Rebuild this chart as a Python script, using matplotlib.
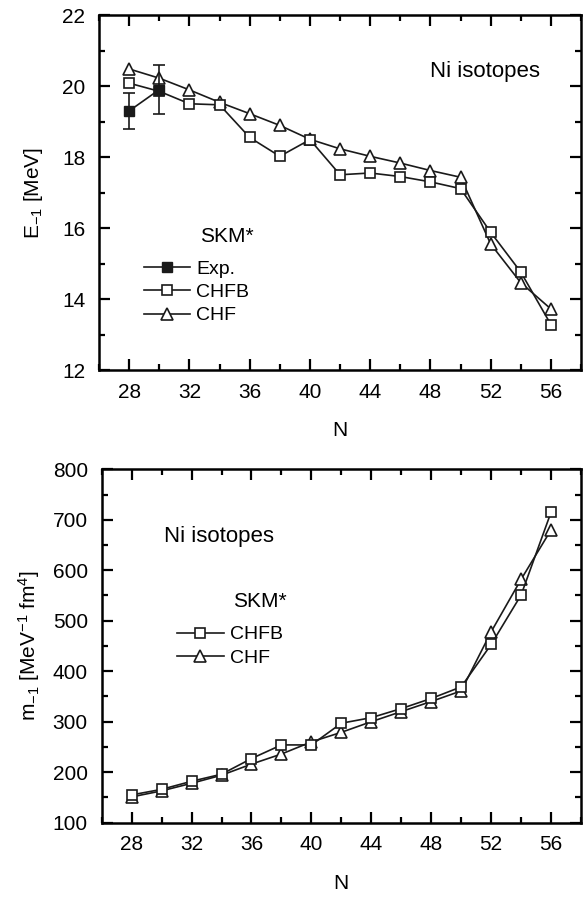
import matplotlib
matplotlib.use("Agg")
import matplotlib.pyplot as plt
from matplotlib.lines import Line2D
from matplotlib.ticker import MultipleLocator

plt.rcParams['font.family'] = ['Liberation Sans', 'DejaVu Sans']
plt.rcParams['mathtext.fontset'] = 'custom'
plt.rcParams['mathtext.rm'] = 'Liberation Sans'
plt.rcParams['mathtext.it'] = 'Liberation Sans'

# neutron numbers
N = [28, 30, 32, 34, 36, 38, 40, 42, 44, 46, 48, 50, 52, 54, 56]

# top panel: E_-1 [MeV]
exp_N = [28, 30]
exp_E = [19.3, 19.9]
exp_err = [0.5, 0.7]
chfb_E = [20.08, 19.85, 19.5, 19.47, 18.55, 18.02, 18.49, 17.5, 17.55, 17.45,
          17.3, 17.11, 15.88, 14.76, 13.28]
chf_E = [20.48, 20.22, 19.89, 19.54, 19.22, 18.89, 18.5, 18.23, 18.02, 17.83,
         17.62, 17.43, 15.55, 14.46, 13.72]

# bottom panel: m_-1 [MeV^-1 fm^4]
chfb_m = [155, 166, 182, 196, 227, 254, 254, 297, 308, 326, 346, 369, 453, 551, 715]
chf_m = [151, 163, 178, 194, 216, 236, 260, 279, 300, 320, 340, 361, 478, 582, 680]

INK = '#1a1a1a'


def style_axes(ax, ymajor, yminor):
    ax.set_xlim(26, 58)
    ax.xaxis.set_major_locator(MultipleLocator(4))
    ax.xaxis.set_minor_locator(MultipleLocator(2))
    ax.yaxis.set_major_locator(MultipleLocator(ymajor))
    ax.yaxis.set_minor_locator(MultipleLocator(yminor))
    ax.tick_params(which='both', direction='in', top=True, right=True, width=1.6)
    ax.tick_params(which='major', length=8, labelsize=15)
    ax.tick_params(which='minor', length=4.5)
    ax.tick_params(axis='x', which='major', pad=9)
    ax.tick_params(axis='y', which='major', pad=10)
    for s in ax.spines.values():
        s.set_linewidth(1.8)
    ax.set_xlabel("N", fontsize=15, labelpad=14)


fig = plt.figure(figsize=(5.83, 8.99), dpi=100)

# ---- top panel
ax1 = fig.add_axes([0.170, 0.5884, 0.8266, 0.3949])
ax1.errorbar(exp_N, exp_E, yerr=exp_err, fmt='s-', color=INK, mfc=INK,
             ms=7.5, lw=1.2, capsize=4, elinewidth=1.2, capthick=1.2, zorder=5)
l_chfb, = ax1.plot(N, chfb_E, 's-', color=INK, mfc='white', ms=6.5, mew=1.2,
                   lw=1.2, label='CHFB', zorder=3)
l_chf, = ax1.plot(N, chf_E, '^-', color=INK, mfc='white', ms=9, mew=1.2,
                  lw=1.2, label='CHF', zorder=2)
l_exp = Line2D([], [], marker='s', color=INK, mfc=INK, ms=7, lw=1.2, label='Exp.')
ax1.set_ylim(12, 22)
style_axes(ax1, 2, 1)
ax1.set_ylabel("E$_{-1}$ [MeV]", fontsize=15, labelpad=12)
ax1.text(0.80, 0.842, "Ni isotopes", transform=ax1.transAxes, fontsize=16,
         ha='center', va='center')
ax1.text(0.265, 0.375, "SKM*", transform=ax1.transAxes, fontsize=15,
         ha='center', va='center')
ax1.legend(handles=[l_exp, l_chfb, l_chf], loc='upper left',
           bbox_to_anchor=(0.076, 0.332), frameon=False, fontsize=14,
           handlelength=2.4, handletextpad=0.3, labelspacing=0.3, borderaxespad=0)

# ---- bottom panel
ax2 = fig.add_axes([0.1744, 0.0849, 0.8222, 0.3931])
l2_chfb, = ax2.plot(N, chfb_m, 's-', color=INK, mfc='white', ms=6.5, mew=1.2,
                    lw=1.2, label='CHFB', zorder=3)
l2_chf, = ax2.plot(N, chf_m, '^-', color=INK, mfc='white', ms=9, mew=1.2,
                   lw=1.2, label='CHF', zorder=2)
ax2.set_ylim(100, 800)
style_axes(ax2, 100, 50)
ax2.set_ylabel("m$_{-1}$ [MeV$^{-1}$ fm$^{4}$]", fontsize=15, labelpad=8)
ax2.text(0.245, 0.811, "Ni isotopes", transform=ax2.transAxes, fontsize=16,
         ha='center', va='center')
ax2.text(0.33, 0.625, "SKM*", transform=ax2.transAxes, fontsize=15,
         ha='center', va='center')
ax2.legend(handles=[l2_chfb, l2_chf], loc='upper left',
           bbox_to_anchor=(0.141, 0.579), frameon=False, fontsize=14,
           handlelength=2.4, handletextpad=0.3, labelspacing=0.3, borderaxespad=0)

fig.savefig("out.png", dpi=100)
